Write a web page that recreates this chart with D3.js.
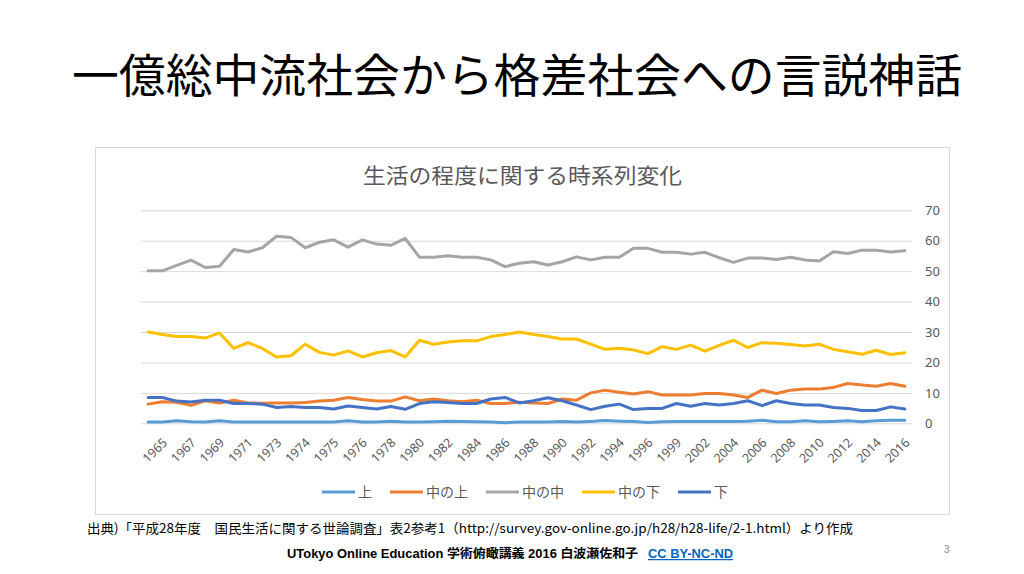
<!DOCTYPE html>
<html>
<head>
<meta charset="utf-8">
<script src="https://cdn.jsdelivr.net/npm/d3@7"></script>
<style>
  body { margin: 0; background: #fff; }
  svg { display: block; }
  text { font-family: "Noto Sans CJK JP", "Noto Sans", sans-serif; }
</style>
</head>
<body>
<svg id="slide" width="1024" height="574"></svg>
<script>
// Survey rounds (some years were surveyed twice); only every other one is labelled
const categories = [
  "1964", "1965", "1966", "1967", "1968", "1969", "1970", "1971", "1972", "1973",
  "1973", "1974", "1974", "1975", "1975", "1976", "1977", "1978", "1979", "1980",
  "1981", "1982", "1983", "1984", "1985", "1986", "1987", "1988", "1989", "1990",
  "1991", "1992", "1993", "1994", "1995", "1996", "1997", "1999", "2001", "2002",
  "2003", "2004", "2005", "2006", "2007", "2008", "2009", "2010", "2011", "2012",
  "2013", "2014", "2015", "2016"
];

const seriesNames = ["上", "中の上", "中の中", "中の下", "下"];
const seriesColors = ["#5B9BD5", "#ED7D31", "#A5A5A5", "#FFC000", "#4472C4"];

const upper = [
  0.4, 0.4, 0.8, 0.5, 0.4, 0.8, 0.4, 0.4, 0.4, 0.4,
  0.4, 0.4, 0.4, 0.4, 0.8, 0.4, 0.4, 0.7, 0.4, 0.4,
  0.5, 0.7, 0.6, 0.5, 0.4, 0.2, 0.4, 0.4, 0.4, 0.6,
  0.4, 0.6, 0.9, 0.7, 0.6, 0.3, 0.5, 0.6, 0.6, 0.6,
  0.6, 0.6, 0.7, 1.0, 0.5, 0.5, 0.8, 0.5, 0.6, 0.8,
  0.5, 0.8, 1.0, 1.0
];
const middleUpper = [
  6.3, 7.1, 6.9, 5.9, 7.4, 6.7, 7.6, 6.7, 6.6, 6.7,
  6.7, 6.8, 7.3, 7.6, 8.5, 7.8, 7.3, 7.3, 8.7, 7.4,
  8.0, 7.4, 7.1, 7.6, 6.5, 6.5, 6.9, 6.7, 6.5, 8.0,
  7.6, 10.0, 10.9, 10.2, 9.6, 10.4, 9.3, 9.3, 9.3, 9.8,
  9.8, 9.3, 8.5, 10.9, 9.8, 10.9, 11.3, 11.3, 11.8, 13.1,
  12.6, 12.2, 13.1, 12.2
];
const middleMiddle = [
  50.1, 50.1, 51.9, 53.6, 51.2, 51.6, 57.1, 56.3, 57.7, 61.5,
  61.1, 57.7, 59.5, 60.3, 57.9, 60.3, 58.9, 58.5, 60.8, 54.6,
  54.6, 55.1, 54.6, 54.6, 53.7, 51.5, 52.6, 53.1, 52.0, 53.1,
  54.7, 53.7, 54.6, 54.6, 57.5, 57.5, 56.2, 56.2, 55.6, 56.2,
  54.4, 52.9, 54.3, 54.3, 53.8, 54.6, 53.7, 53.3, 56.4, 55.8,
  56.9, 56.9, 56.3, 56.7
];
const middleLower = [
  30.0, 29.2, 28.5, 28.5, 28.0, 29.7, 24.6, 26.5, 24.6, 21.8,
  22.2, 26.0, 23.3, 22.4, 23.8, 21.8, 23.2, 23.9, 21.8, 27.3,
  26.0, 26.7, 27.1, 27.1, 28.5, 29.2, 30.0, 29.2, 28.5, 27.7,
  27.7, 26.0, 24.3, 24.7, 24.1, 22.9, 25.2, 24.3, 25.7, 23.7,
  25.6, 27.3, 24.9, 26.5, 26.3, 25.9, 25.4, 26.0, 24.3, 23.5,
  22.7, 24.0, 22.6, 23.2
];
const lower = [
  8.5, 8.5, 7.3, 7.0, 7.6, 7.6, 6.5, 6.5, 6.3, 5.2,
  5.5, 5.2, 5.2, 4.7, 5.7, 5.2, 4.7, 5.5, 4.6, 6.5,
  7.1, 6.8, 6.5, 6.5, 8.0, 8.5, 6.7, 7.4, 8.4, 7.4,
  6.0, 4.5, 5.6, 6.3, 4.5, 4.9, 4.9, 6.5, 5.6, 6.5,
  6.0, 6.5, 7.4, 5.8, 7.4, 6.5, 6.0, 6.0, 5.2, 4.9,
  4.2, 4.2, 5.4, 4.7
];
const seriesValues = [upper, middleUpper, middleMiddle, middleLower, lower];
const yTicks = [0, 10, 20, 30, 40, 50, 60, 70];

const svg = d3.select("#slide");
const plot = {left: 141, right: 912, top: 210.3, bottom: 423.3};
const textGrey = "#595959";

// Slide title
svg.append("text")
    .attr("x", 72)
    .attr("y", 92)
    .attr("textLength", 890)
    .attr("lengthAdjust", "spacingAndGlyphs")
    .style("font-size", "46px")
    .style("fill", "#000")
    .text("一億総中流社会から格差社会への言説神話");

// Chart frame
svg.append("rect")
    .attr("x", 95.5)
    .attr("y", 147.5)
    .attr("width", 854)
    .attr("height", 367)
    .attr("fill", "#fff")
    .attr("stroke", "#d9d9d9");

svg.append("text")
    .attr("x", 363)
    .attr("y", 183)
    .attr("textLength", 319)
    .attr("lengthAdjust", "spacingAndGlyphs")
    .style("font-size", "21px")
    .style("fill", textGrey)
    .text("生活の程度に関する時系列変化");

// Scales
const x = d3.scalePoint()
    .domain(d3.range(categories.length))
    .range([plot.left, plot.right])
    .padding(0.5);

const y = d3.scaleLinear()
    .domain([0, 70])
    .range([plot.bottom, plot.top]);

// Value axis on the right with gridlines across the plot
const yAxis = svg.append("g")
    .attr("transform", "translate(" + plot.right + ",0)")
    .call(d3.axisRight(y)
        .tickValues(yTicks)
        .tickSize(-(plot.right - plot.left))
        .tickPadding(13));
yAxis.select(".domain").remove();
yAxis.selectAll("line").attr("stroke", "#d9d9d9");
yAxis.selectAll("text")
    .style("font-size", "13px")
    .style("fill", textGrey)
    .style("font-family", "'Noto Sans', sans-serif");

// Category axis, every other label, rotated
const xAxis = svg.append("g")
    .attr("transform", "translate(0," + plot.bottom + ")")
    .call(d3.axisBottom(x)
        .tickValues(d3.range(1, categories.length, 2))
        .tickSize(0)
        .tickFormat(i => categories[i]));
xAxis.select(".domain").remove();
xAxis.selectAll("text")
    .attr("x", 0)
    .attr("y", 0)
    .attr("dy", "0.35em")
    .attr("transform", "translate(2,17) rotate(-45)")
    .style("text-anchor", "end")
    .style("font-size", "12.5px")
    .style("fill", textGrey)
    .style("font-family", "'Noto Sans', sans-serif");

// Lines
const line = d3.line()
    .x((d, i) => x(i))
    .y(d => y(d));

svg.append("g")
    .selectAll("path")
    .data(seriesValues)
    .enter().append("path")
    .attr("d", d => line(d))
    .attr("fill", "none")
    .attr("stroke", (d, i) => seriesColors[i])
    .attr("stroke-width", 3)
    .attr("stroke-linejoin", "round")
    .attr("stroke-linecap", "round");

// Legend, centred under the plot
const legend = svg.append("g").attr("transform", "translate(0,492)");
const items = legend.selectAll("g")
    .data(seriesNames)
    .enter().append("g");
items.append("line")
    .attr("x1", 0).attr("x2", 33)
    .attr("stroke", (d, i) => seriesColors[i])
    .attr("stroke-width", 3);
items.append("text")
    .attr("x", 36)
    .attr("dy", "0.35em")
    .style("font-size", "14px")
    .style("fill", textGrey)
    .text(d => d);

let offset = 0;
const widths = [];
items.each(function() {
    widths.push(36 + this.querySelector("text").getComputedTextLength());
});
const total = d3.sum(widths) + 18 * (widths.length - 1);
items.attr("transform", (d, i) => {
    const pos = 525 - total / 2 + offset;
    offset += widths[i] + 18;
    return "translate(" + pos + ",0)";
});

// Source note and footer
svg.append("text")
    .attr("x", 87)
    .attr("y", 533)
    .attr("textLength", 766)
    .attr("lengthAdjust", "spacingAndGlyphs")
    .style("font-size", "13px")
    .style("fill", "#000")
    .text("出典)「平成28年度　国民生活に関する世論調査」表2参考1（http://survey.gov-online.go.jp/h28/h28-life/2-1.html）より作成");

svg.append("text")
    .attr("x", 287)
    .attr("y", 558)
    .attr("textLength", 351)
    .attr("lengthAdjust", "spacingAndGlyphs")
    .style("font-size", "12.5px")
    .style("font-weight", "bold")
    .style("fill", "#000")
    .style("font-family", "'Liberation Sans', 'Noto Sans CJK JP', sans-serif")
    .text("UTokyo Online Education 学術俯瞰講義 2016 白波瀬佐和子");

svg.append("text")
    .attr("x", 648)
    .attr("y", 558)
    .attr("textLength", 85)
    .attr("lengthAdjust", "spacingAndGlyphs")
    .style("font-size", "12.5px")
    .style("font-weight", "bold")
    .style("fill", "#0563C1")
    .style("text-decoration", "underline")
    .style("font-family", "'Liberation Sans', sans-serif")
    .text("CC BY-NC-ND");

svg.append("text")
    .attr("x", 944)
    .attr("y", 553)
    .style("font-size", "10px")
    .style("fill", "#898989")
    .style("font-family", "'Liberation Sans', sans-serif")
    .text("3");
</script>
</body>
</html>
